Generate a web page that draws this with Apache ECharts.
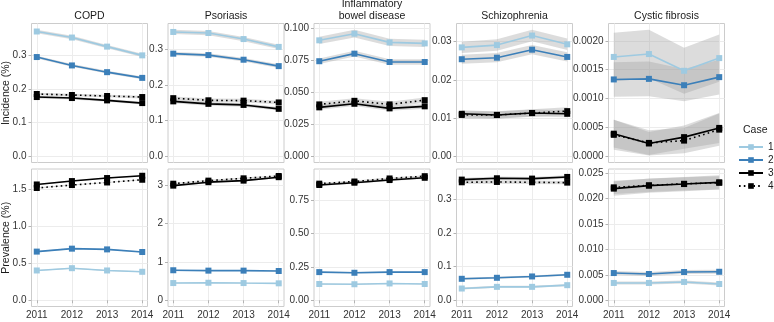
<!DOCTYPE html>
<html>
<head>
<meta charset="utf-8">
<script src="https://cdn.jsdelivr.net/npm/echarts@6/dist/echarts.min.js"></script>
<style>
  html, body { margin: 0; padding: 0; background: #fff; }
  #chart { width: 774px; height: 322px; }
</style>
</head>
<body>
<div id="chart"></div>
<script>
// x axis years and facet names
const years = [2011, 2012, 2013, 2014];
const caseNames = ['1', '2', '3', '4'];
const diseases = ['COPD', 'Psoriasis', 'Inflammatory\nbowel disease', 'Schizophrenia', 'Cystic fibrosis'];
const measures = ['Incidence (%)', 'Prevalence (%)'];

// incidence estimates, one row per case (1..4)
const incCOPD = [[0.371, 0.353, 0.326, 0.300], [0.295, 0.270, 0.250, 0.233], [0.176, 0.173, 0.166, 0.158], [0.185, 0.182, 0.179, 0.176]];
const incPsoriasis = [[0.349, 0.346, 0.329, 0.307], [0.288, 0.284, 0.271, 0.253], [0.154, 0.147, 0.144, 0.133], [0.163, 0.157, 0.156, 0.151]];
const incIBD = [[0.0904, 0.0956, 0.0888, 0.0880], [0.0741, 0.0800, 0.0735, 0.0735], [0.0381, 0.0409, 0.0373, 0.0389], [0.0404, 0.0432, 0.0404, 0.0437]];
const incSchizo = [[0.0285, 0.0291, 0.0316, 0.0293], [0.0254, 0.0258, 0.0279, 0.0260], [0.0111, 0.0108, 0.0113, 0.0111], [0.0108, 0.0108, 0.0113, 0.0118]];
const incCF = [[0.00172, 0.00177, 0.00148, 0.00170], [0.00133, 0.00134, 0.00123, 0.00137], [0.00039, 0.00022, 0.00033, 0.00049], [0.00037, 0.00023, 0.00027, 0.00046]];

// half width of the confidence ribbon, same layout
const incCOPDci = [[0.005, 0.005, 0.005, 0.005], [0.004, 0.004, 0.004, 0.004], [0.004, 0.004, 0.004, 0.004], [0.004, 0.004, 0.004, 0.004]];
const incPsoriasisCi = [[0.006, 0.006, 0.006, 0.006], [0.005, 0.005, 0.005, 0.005], [0.005, 0.005, 0.005, 0.005], [0.005, 0.005, 0.005, 0.005]];
const incIBDci = [[0.0028, 0.0030, 0.0028, 0.0028], [0.0022, 0.0022, 0.0022, 0.0022], [0.0018, 0.0018, 0.0018, 0.0018], [0.0020, 0.0020, 0.0020, 0.0020]];
const incSchizoCi = [[0.0015, 0.0015, 0.0015, 0.0015], [0.0012, 0.0012, 0.0012, 0.0012], [0.0009, 0.0009, 0.0009, 0.0009], [0.0010, 0.0010, 0.0010, 0.0010]];
const incCFci = [[0.00042, 0.00042, 0.00040, 0.00041], [0.00030, 0.00030, 0.00028, 0.00030], [0.00024, 0.00020, 0.00020, 0.00026], [0.00026, 0.00022, 0.00022, 0.00028]];

// prevalence estimates
const prevCOPD = [[0.404, 0.435, 0.404, 0.386], [0.660, 0.700, 0.690, 0.655], [1.571, 1.617, 1.658, 1.689], [1.523, 1.563, 1.598, 1.635]];
const prevPsoriasis = [[0.447, 0.455, 0.447, 0.440], [0.78, 0.77, 0.77, 0.76], [2.98, 3.07, 3.11, 3.20], [3.03, 3.11, 3.17, 3.23]];
const prevIBD = [[0.122, 0.120, 0.126, 0.122], [0.211, 0.206, 0.211, 0.211], [0.864, 0.881, 0.901, 0.918], [0.874, 0.890, 0.913, 0.930]];
const prevSchizo = [[0.035, 0.040, 0.040, 0.045], [0.064, 0.067, 0.071, 0.076], [0.360, 0.364, 0.363, 0.368], [0.352, 0.353, 0.352, 0.351]];
const prevCF = [[0.0034, 0.0034, 0.0036, 0.0032], [0.00535, 0.00516, 0.00555, 0.0056], [0.02195, 0.02254, 0.02285, 0.02318], [0.0222, 0.0226, 0.0229, 0.0231]];

const prevCOPDci = [[0.006, 0.006, 0.006, 0.006], [0.008, 0.008, 0.008, 0.008], [0.007, 0.007, 0.007, 0.007], [0.007, 0.007, 0.007, 0.007]];
const prevPsoriasisCi = [[0.010, 0.010, 0.010, 0.010], [0.012, 0.012, 0.012, 0.012], [0.020, 0.020, 0.020, 0.020], [0.020, 0.020, 0.020, 0.020]];
const prevIBDci = [[0.004, 0.004, 0.004, 0.004], [0.005, 0.005, 0.005, 0.005], [0.007, 0.007, 0.007, 0.007], [0.007, 0.007, 0.007, 0.007]];
const prevSchizoCi = [[0.003, 0.003, 0.003, 0.003], [0.003, 0.003, 0.003, 0.003], [0.005, 0.005, 0.005, 0.005], [0.005, 0.005, 0.005, 0.005]];
const prevCFci = [[0.0003, 0.0003, 0.0003, 0.0003], [0.0004, 0.0004, 0.0004, 0.0004], [0.0014, 0.0014, 0.0014, 0.0014], [0.0013, 0.0013, 0.0013, 0.0013]];

// y tick labels per panel
const ticksIncCOPD = ['0.0', '0.1', '0.2', '0.3'];
const ticksIncPsoriasis = ['0.0', '0.1', '0.2', '0.3'];
const ticksIncIBD = ['0.000', '0.025', '0.050', '0.075', '0.100'];
const ticksIncSchizo = ['0.00', '0.01', '0.02', '0.03'];
const ticksIncCF = ['0.0000', '0.0005', '0.0010', '0.0015', '0.0020'];
const ticksPrevCOPD = ['0.0', '0.5', '1.0', '1.5'];
const ticksPrevPsoriasis = ['0', '1', '2', '3'];
const ticksPrevIBD = ['0.00', '0.25', '0.50', '0.75'];
const ticksPrevSchizo = ['0.0', '0.1', '0.2', '0.3'];
const ticksPrevCF = ['0.000', '0.005', '0.010', '0.015', '0.020', '0.025'];

const rows = [
  [[incCOPD, incCOPDci, ticksIncCOPD], [incPsoriasis, incPsoriasisCi, ticksIncPsoriasis], [incIBD, incIBDci, ticksIncIBD], [incSchizo, incSchizoCi, ticksIncSchizo], [incCF, incCFci, ticksIncCF]],
  [[prevCOPD, prevCOPDci, ticksPrevCOPD], [prevPsoriasis, prevPsoriasisCi, ticksPrevPsoriasis], [prevIBD, prevIBDci, ticksPrevIBD], [prevSchizo, prevSchizoCi, ticksPrevSchizo], [prevCF, prevCFci, ticksPrevCF]]
];

// layout
const colLeft = [31.5, 168, 314, 456.5, 608.5];
const panelW = 116;
const rowTop = [23.5, 169];
const rowH = [139, 137.5];
const lineColors = ['#9ecae1', '#3b7fb9', '#000000', '#000000'];
const font = 'Liberation Sans, Arial, sans-serif';
const ribbonFill = 'rgba(160,160,160,0.37)';

const chart = echarts.init(document.getElementById('chart'), null, { renderer: 'canvas' });

const option = {
  animation: false,
  backgroundColor: '#fff',
  textStyle: { fontFamily: font },
  grid: [], xAxis: [], yAxis: [], series: [], graphic: []
};

rows.forEach(function (row, r) {
  row.forEach(function (panel, c) {
    const est = panel[0], ci = panel[1], ticks = panel[2];
    const idx = option.grid.length;
    // y range like ggplot: data incl. 0, expanded by 5%
    let hi = 0;
    est.forEach(function (s, k) { s.forEach(function (v, i) { hi = Math.max(hi, v + ci[k][i]); }); });
    const pad = hi * 0.05;
    const tickVals = ticks.map(Number);

    option.grid.push({
      left: colLeft[c], top: rowTop[r], width: panelW, height: rowH[r],
      show: true, borderColor: '#cccccc', borderWidth: 1, backgroundColor: '#fff',
      containLabel: false, outerBoundsMode: 'none'
    });
    option.xAxis.push({
      type: 'value', gridIndex: idx, min: years[0] - 0.15, max: years[years.length - 1] + 0.15,
      axisLine: { show: false },
      axisTick: { show: r === 1, length: 3, customValues: years, lineStyle: { color: '#b3b3b3' } },
      axisLabel: {
        show: r === 1, customValues: years, margin: 4, fontSize: 10, color: '#333', fontFamily: font,
        formatter: function (v) { return String(Math.round(v)); }
      },
      splitLine: { show: true, lineStyle: { color: '#ececec', width: 1 } }
    });
    option.yAxis.push({
      type: 'value', gridIndex: idx, min: -pad, max: hi + pad,
      axisLine: { show: false },
      axisTick: { show: true, length: 3, customValues: tickVals, lineStyle: { color: '#b3b3b3' } },
      axisLabel: {
        customValues: tickVals, margin: 5, fontSize: 10, color: '#333', fontFamily: font,
        formatter: function (v) {
          const s = ticks.find(function (t) { return Math.abs(Number(t) - v) < 1e-9; });
          return s !== undefined ? s : String(v);
        }
      },
      splitLine: { show: true, lineStyle: { color: '#ececec', width: 1 } }
    });

    // ribbons
    est.forEach(function (s, k) {
      const lo = s.map(function (v, i) { return v - ci[k][i]; });
      const up = s.map(function (v, i) { return v + ci[k][i]; });
      option.series.push({
        type: 'custom', name: 'ci', xAxisIndex: idx, yAxisIndex: idx, z: 1, silent: true,
        data: years.map(function (y, i) { return [y, lo[i], up[i]]; }),
        encode: { x: 0, y: [1, 2] },
        renderItem: function (params, api) {
          if (params.dataIndex !== 0) return null;
          const pts = [];
          years.forEach(function (y, i) { pts.push(api.coord([y, up[i]])); });
          for (let i = years.length - 1; i >= 0; i--) pts.push(api.coord([years[i], lo[i]]));
          return { type: 'polygon', shape: { points: pts }, style: { fill: ribbonFill, stroke: null } };
        }
      });
    });

    // lines with square points
    est.forEach(function (s, k) {
      option.series.push({
        type: 'line', name: caseNames[k], xAxisIndex: idx, yAxisIndex: idx, z: 3 + k,
        data: years.map(function (y, i) { return [y, s[i]]; }),
        symbol: 'rect', symbolSize: 6, showSymbol: true,
        itemStyle: { color: lineColors[k] },
        lineStyle: { color: lineColors[k], width: 1.6, type: k === 3 ? [1.6, 3.2] : 'solid' }
      });
    });

    // facet header
    if (r === 0) {
      option.graphic.push({
        type: 'text', x: colLeft[c] + panelW / 2, y: 21.5,
        style: { text: diseases[c], fontSize: 10.5, lineHeight: 11.5, fontFamily: font, fill: '#1a1a1a', align: 'center', verticalAlign: 'bottom' }
      });
    }
  });
  // row title
  option.graphic.push({
    type: 'text', x: 6, y: rowTop[r] + rowH[r] / 2, rotation: Math.PI / 2,
    style: { text: measures[r], fontSize: 10.5, fontFamily: font, fill: '#1a1a1a', align: 'center', verticalAlign: 'middle' }
  });
});

// legend
option.graphic.push({
  type: 'text', x: 743, y: 130,
  style: { text: 'Case', fontSize: 10.5, fontFamily: font, fill: '#1a1a1a', align: 'left', verticalAlign: 'middle' }
});
option.legend = {
  data: caseNames, orient: 'vertical', left: 738, top: 142, padding: 0,
  itemWidth: 24, itemHeight: 7, itemGap: 3,
  textStyle: { fontSize: 10, lineHeight: 10, color: '#1a1a1a', fontFamily: font },
  selectedMode: false
};

chart.setOption(option);
</script>
</body>
</html>
